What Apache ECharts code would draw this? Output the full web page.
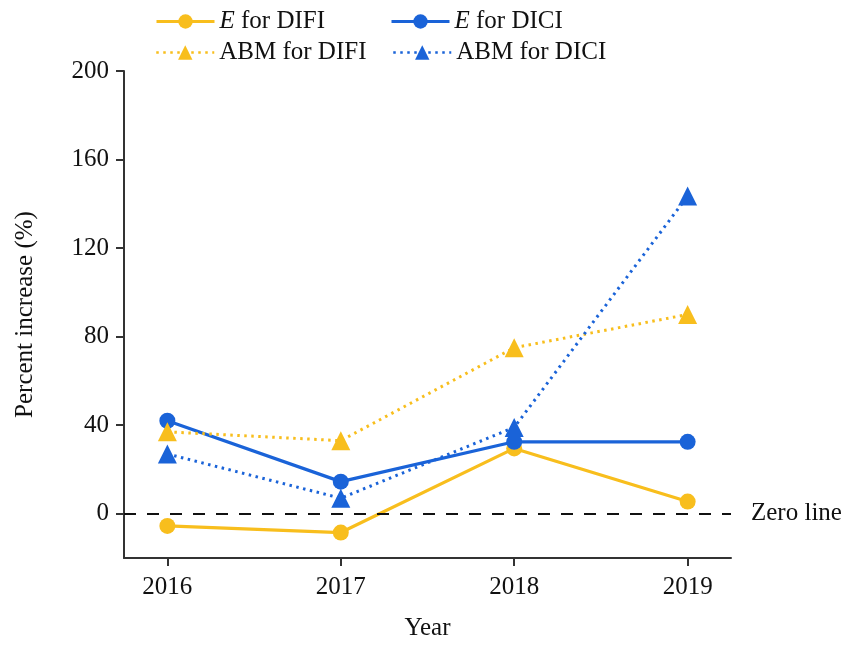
<!DOCTYPE html>
<html>
<head>
<meta charset="utf-8">
<script src="https://cdn.jsdelivr.net/npm/echarts@6/dist/echarts.min.js"></script>
<style>
  html, body { margin: 0; padding: 0; background: #fff; }
  #chart { width: 850px; height: 646px; }
</style>
</head>
<body>
<div id="chart"></div>
<script>
// Survey years on the horizontal axis
const years = [2016, 2017, 2018, 2019];
// Percent increase per year
const eDIFI = [-5.5, -8.5, 29.5, 5.5];
const eDICI = [42, 14.5, 32.5, 32.5];
const abmDIFI = [37, 33, 75, 90];
const abmDICI = [27, 7, 39, 143.5];
// Labelled ticks on the vertical axis
const yTicks = [0, 40, 80, 120, 160, 200];

const YELLOW = '#F8BE1D';
const BLUE = '#1A63D8';
const FONT = 'Liberation Serif';
const FS = 25;

const pairs = arr => years.map((y, i) => [y, arr[i]]);
const DOT = [2.5, 4.5];

function series(name, data, color, dotted, symbol) {
  return {
    name: name,
    type: 'line',
    data: pairs(data),
    symbol: symbol,
    symbolSize: symbol === 'circle' ? 16 : 19,
    itemStyle: { color: color },
    lineStyle: dotted
      ? { color: color, width: 3, type: DOT }
      : { color: color, width: 3.2 },
    z: dotted ? 3 : 2
  };
}

function legendAt(name, left, top, dotted) {
  return {
    data: [name],
    left: left,
    top: top,
    itemWidth: 58,
    itemHeight: 18,
    itemGap: 4,
    lineStyle: { width: dotted ? 2.5 : 3, type: dotted ? DOT : 'solid' },
    textStyle: {
      fontFamily: FONT, fontSize: FS, color: '#111',
      rich: { i: { fontFamily: FONT, fontStyle: 'italic', fontSize: FS, color: '#111' } }
    },
    formatter: n => n.startsWith('E ') ? '{i|E}' + n.slice(1) : n
  };
}

const chart = echarts.init(document.getElementById('chart'));
chart.setOption({
  backgroundColor: '#fff',
  animation: false,
  legend: [
    legendAt('E for DIFI', 150, 4, false),
    legendAt('E for DICI', 385, 4, false),
    legendAt('ABM for DIFI', 150, 35, true),
    legendAt('ABM for DICI', 387, 35, true)
  ],
  grid: { left: 124, right: 119, top: 71, bottom: 86 },
  xAxis: {
    type: 'value',
    min: 2015.75,
    max: 2019.25,
    name: 'Year',
    nameLocation: 'middle',
    nameGap: 58,
    nameTextStyle: { fontFamily: FONT, fontSize: FS, color: '#111' },
    splitLine: { show: false },
    axisLine: { show: true, onZero: false, lineStyle: { color: '#333', width: 2 } },
    axisTick: { show: true, length: 8, lineStyle: { color: '#333', width: 2 }, customValues: years },
    axisLabel: {
      customValues: years, margin: 17,
      fontFamily: FONT, fontSize: FS, color: '#111',
      formatter: v => String(v)
    }
  },
  yAxis: {
    type: 'value',
    min: -20,
    max: 200,
    name: 'Percent increase (%)',
    nameLocation: 'middle',
    nameGap: 86,
    nameTextStyle: { fontFamily: FONT, fontSize: FS, color: '#111' },
    splitLine: { show: false },
    axisLine: { show: true, onZero: false, lineStyle: { color: '#333', width: 2 } },
    axisTick: { show: true, length: 8, lineStyle: { color: '#333', width: 2 }, customValues: yTicks },
    axisLabel: {
      customValues: yTicks, margin: 15,
      fontFamily: FONT, fontSize: FS, color: '#111',
      formatter: v => String(v)
    }
  },
  series: [
    Object.assign(series('E for DIFI', eDIFI, YELLOW, false, 'circle'), {
      markLine: {
        silent: true,
        symbol: ['none', 'none'],
        lineStyle: { color: '#111', width: 2, type: [12, 11] },
        label: {
          show: true, position: 'end', distance: 20,
          formatter: 'Zero line',
          fontFamily: FONT, fontSize: FS, color: '#111'
        },
        data: [{ yAxis: 0 }]
      }
    }),
    series('ABM for DIFI', abmDIFI, YELLOW, true, 'triangle'),
    series('E for DICI', eDICI, BLUE, false, 'circle'),
    series('ABM for DICI', abmDICI, BLUE, true, 'triangle')
  ]
});
</script>
</body>
</html>
